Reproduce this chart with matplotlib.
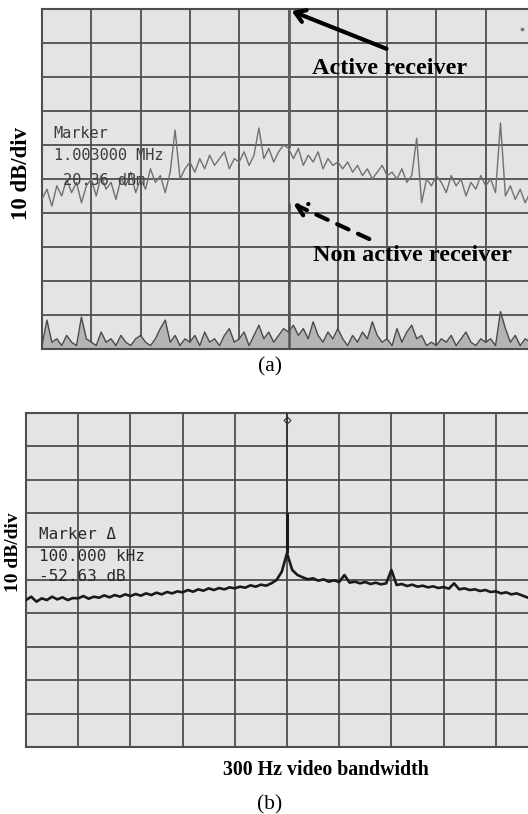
import numpy as np
import matplotlib.pyplot as plt

# ---- panel (a): spectrum, 10 dB/div, x in screen divisions (0.1 div steps) ----
active_db = [
    -56, -53, -58, -52, -55, -50, -54, -51, -57, -52,
    -50, -55, -49, -53, -51, -56, -50, -52, -48, -54,
    -50, -53, -47, -51, -49, -54, -48, -35.6, -50, -47,
    -45, -48, -44, -47, -43, -46, -44, -42, -47, -44,
    -45, -42, -46, -43, -35, -44, -41, -45, -42, -40,
    -41, -44, -41, -46, -43, -45, -42, -47, -44, -46,
    -45, -47, -45, -48, -46, -49, -47, -50, -48, -46,
    -49, -48, -50, -47, -51, -49, -38, -57, -50, -52,
    -49, -51, -54, -49, -52, -50, -55, -51, -53, -49,
    -52, -50, -54, -33.5, -55, -52, -56, -53, -57, -54,
]
idle_db = [
    -99, -91.5, -98, -97, -99, -96, -98, -99, -90.6, -97,
    -98, -99, -95, -98, -97, -99, -96, -98, -99, -97,
    -96, -98, -99, -97, -94, -91.5, -98, -96, -99, -97,
    -98, -96, -99, -95, -98, -97, -99, -96, -94, -98,
    -97, -95, -99, -96, -93, -97, -95, -98, -96, -94,
    -95, -93, -96, -94, -97, -92, -96, -98, -95, -97,
    -94, -97, -99, -96, -98, -95, -97, -92, -96, -98,
    -97, -99, -94, -98, -95, -93, -97, -96, -99, -98,
    -99, -97, -98, -96, -99, -97, -95, -98, -99, -97,
    -98, -97, -99, -89, -94, -98, -96, -99, -97, -98,
]
a_peak_x = 5.0
a_active_peak = (-41, 0)
a_idle_peak = (-100, -57)

# ---- panel (b): single carrier, 300 Hz video bandwidth ----
b_db = [
    -56, -55, -56.5, -55.5, -56, -55, -55.8, -55.2, -56, -55.4,
    -55.5, -54.8, -55.6, -55, -55.3, -54.6, -55.2, -54.5, -55, -54.3,
    -54.8, -54.2, -54.7, -54, -54.5, -53.8, -54.3, -53.6, -54, -53.4,
    -53.7, -53, -53.5, -52.8, -53.2, -52.5, -53, -52.4, -52.8, -52.2,
    -52.5, -52, -52.3, -51.6, -52, -51.4, -51.7, -51, -50, -47.5,
    -42, -47, -48.5, -49.2, -49.8, -49.5, -50.2, -49.8, -50.5, -50.1,
    -50.6, -48.5, -50.8, -50.5, -51, -50.6, -51.2, -50.8, -51.3, -51,
    -47, -51.5, -51.2, -51.8, -51.4, -52, -51.7, -52.2, -51.9, -52.4,
    -52.1, -52.6, -51, -52.8, -52.5, -53, -52.8, -53.3, -53, -53.6,
    -53.4, -54, -53.7, -54.3, -54, -54.6, -55.2,
]
b_peak_x = 5.0
b_peak = (-42, 0)
b_peak_core = (-42, -30)

W, H = 528, 814
BG = '#e4e4e4'
GRID = '#4e4e4e'


def screen(ax, xmax):
    ax.set_facecolor(BG)
    ax.set_xlim(0, xmax)
    ax.set_ylim(-100, 0)
    ax.set_xticks(range(0, 10))
    ax.set_yticks(range(-100, 1, 10))
    ax.grid(True, color=GRID, lw=1.3)
    ax.tick_params(length=0, labelbottom=False, labelleft=False)
    for s in ['top', 'left', 'bottom']:
        ax.spines[s].set_color(GRID)
        ax.spines[s].set_linewidth(1.5)
    ax.spines['right'].set_visible(False)


fig = plt.figure(figsize=(W / 100, H / 100), dpi=100)

# panel (a)
ax1 = fig.add_axes([42 / W, 1 - 349 / H, 1 - 42 / W, 340 / H])
screen(ax1, (W - 42) / 49.3)
xa = np.arange(len(active_db)) * 0.1
ax1.fill_between(xa, -100, idle_db, color='#b4b4b4', lw=0, zorder=2.5)
ax1.plot(xa, idle_db, color='#4a4a4a', lw=1.0, zorder=3)
ax1.plot(xa, active_db, color='#707070', lw=1.0, zorder=3)
ax1.vlines(a_peak_x, *a_active_peak, color='#606060', lw=2, zorder=3)
ax1.vlines(a_peak_x, *a_idle_peak, color='#555555', lw=1.8, zorder=3)
ax1.plot(9.74, -6, marker='s', ms=2, color='#777777')

mono = dict(family='DejaVu Sans Mono', color='#3c3c3c', fontsize=11,
            ha='left', va='center', zorder=4)
ax1.text(0.24, -36.5, 'Marker', **mono)
ax1.text(0.24, -43, '1.003000 MHz', **mono)
ax1.text(0.24, -50.3, ' 20.36 dBm', **mono)

bold = dict(family='Liberation Serif', weight='bold', fontsize=17.5,
            ha='center', va='center', zorder=5)
ax1.text(7.04, -17.4, 'Active receiver', **bold)
ax1.text(7.52, -72.4, 'Non active receiver', **bold)
ax1.annotate('', xy=(5.01, -0.3), xytext=(7.04, -12),
             arrowprops=dict(arrowstyle='->,head_length=0.7,head_width=0.45',
                             color='black', lw=3), zorder=5)
ax1.annotate('', xy=(5.05, -57), xytext=(6.69, -68),
             arrowprops=dict(arrowstyle='->,head_length=0.7,head_width=0.45',
                             color='black', lw=3, linestyle=(0, (3, 2.5))),
             zorder=5)

fig.text(22 / W, 1 - 174 / H, '10 dB/div', rotation=90, family='Liberation Serif',
         weight='bold', fontsize=16.5, ha='center', va='center')
fig.text(270 / W, 1 - 367 / H, '(a)', family='Liberation Serif', fontsize=15.5,
         ha='center', va='center')

# panel (b)
ax2 = fig.add_axes([26 / W, 1 - 747 / H, 1 - 26 / W, 334 / H])
screen(ax2, (W - 26) / 52.2)
xb = np.arange(len(b_db)) * 0.1
ax2.plot(xb, b_db, color='#1a1a1a', lw=1.9, zorder=3)
ax2.vlines(b_peak_x, *b_peak, color='#303030', lw=1.2, zorder=3)
ax2.vlines(b_peak_x, *b_peak_core, color='#1a1a1a', lw=2.2, zorder=3)
ax2.plot(b_peak_x, -2, marker='D', ms=3.5, mfc='none', mec='#333333', mew=0.8)

mono_b = dict(mono, color='#2a2a2a', fontsize=11.5)
ax2.text(0.25, -36.5, 'Marker \u0394', **mono_b)
ax2.text(0.25, -43.1, '100.000 kHz', **mono_b)
ax2.text(0.25, -49.1, '-52.63 dB', **mono_b)

fig.text(13 / W, 1 - 552 / H, '10 dB/div', rotation=90, family='Liberation Serif',
         weight='bold', fontsize=14, ha='center', va='center')
fig.text(326 / W, 1 - 770 / H, '300 Hz video bandwidth', family='Liberation Serif',
         weight='bold', fontsize=14.3, ha='center', va='center')
fig.text(270 / W, 1 - 805 / H, '(b)', family='Liberation Serif', fontsize=15.5,
         ha='center', va='center')

fig.savefig('out.png', dpi=100)
